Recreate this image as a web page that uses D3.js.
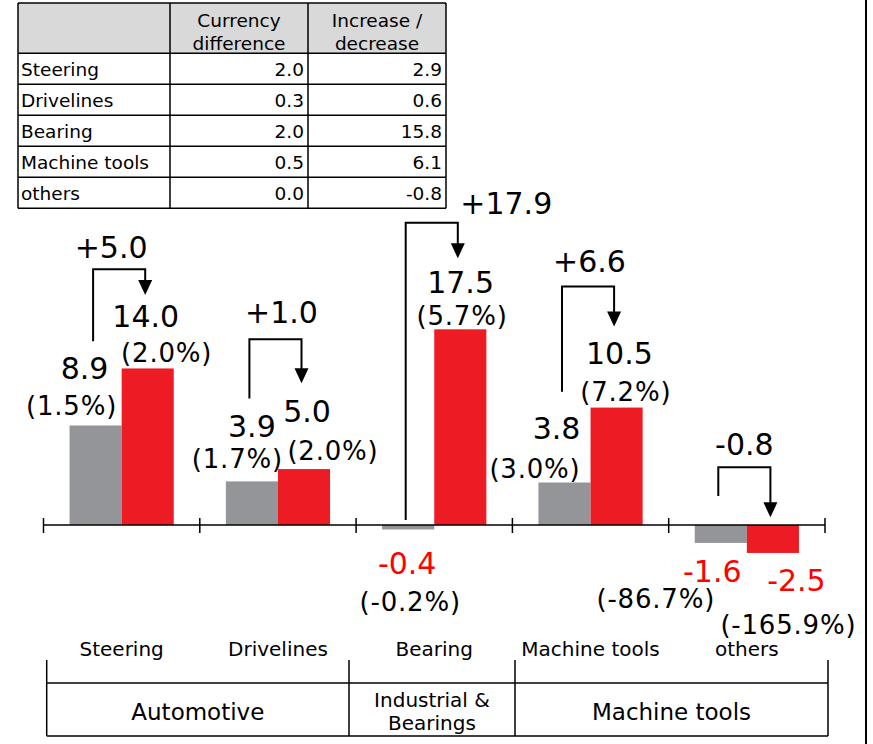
<!DOCTYPE html>
<html>
<head>
<meta charset="utf-8">
<script src="https://cdn.jsdelivr.net/npm/d3@7"></script>
<style>
  html, body { margin: 0; padding: 0; background: #fff; }
  svg { display: block; font-family: "DejaVu Sans", Verdana, sans-serif; }
</style>
</head>
<body>
<svg id="chart" width="873" height="744"></svg>
<script>
// ---- data ----
const categories   = ["Steering", "Drivelines", "Bearing", "Machine tools", "others"];
const prevValues   = [8.9, 3.9, -0.4, 3.8, -1.6];
const currValues   = [14.0, 5.0, 17.5, 10.5, -2.5];
const prevPct      = ["(1.5%)", "(1.7%)", "(-0.2%)", "(3.0%)", "(-86.7%)"];
const currPct      = ["(2.0%)", "(2.0%)", "(5.7%)", "(7.2%)", "(-165.9%)"];
const changeLabels = ["+5.0", "+1.0", "+17.9", "+6.6", "-0.8"];
const currencyDiff = [2.0, 0.3, 2.0, 0.5, 0.0];
const incDec       = [2.9, 0.6, 15.8, 6.1, -0.8];
const tableHeader  = [["Currency", "difference"], ["Increase /", "decrease"]];
const groupNames   = [["Automotive"], ["Industrial &", "Bearings"], ["Machine tools"]];
const groupSpans   = [2, 1, 2];

// ---- layout ----
const GRAY = "#939598", RED = "#ed1c24", TXT_RED = "#ff0000";
const axisY = 525;
const svg = d3.select("#chart");

const x = d3.scaleBand().domain(categories).range([43.5, 825]).paddingInner(0).paddingOuter(0);
const xs = d3.scaleBand().domain(["prev", "curr"]).range([0, x.bandwidth()]).paddingInner(0).paddingOuter(0.5);
const y = d3.scaleLinear().domain([0, 17.5]).range([axisY, 329.3]);

// one decimal, plain hyphen for negatives
const fmt1 = d3.format(".1f");
const fmt = v => fmt1(v).replace("\u2212", "-");

// label nudges: [value dx, value dy, pct dx, pct dy] from bar centre / bar end
const prevLabelPos = [[-11, -46.7, -24, -10], [0, -44, -14.5, -13], [-1, 45, 2, 81.7], [-8, -44, -29.5, -5], [-8.5, 38.7, -65, 65.3]];
const currLabelPos = [[-2, -41, 19, -6], [3, -46.7, 29, -9.3], [0.3, -36, 1.8, -4.3], [2.8, -43.7, 9.2, -7], [23.5, 37.7, 15.5, 81.5]];
// arrow geometry offsets: start above prev bar end, tip above curr bar end, top above tip, label [dx, dy]
const arrowPos = [
  { base: -84.3, tip: -73.5, top: -25.7, ldx: -8,   ldy: -11.3 },
  { base: -83,   tip: -85.8, top: -44,   ldx: 6,    ldy: -16 },
  { base: -5,    tip: -71,   top: -35.6, ldx: 74.5, ldy: -8.7 },
  { base: -90.8, tip: -81,   top: -40,   ldx: 1.4,  ldy: -15 },
  { base: -29,   tip: -7.7,  top: -50,   ldx: 0,    ldy: -12.3 }
];

const rows = categories.map((c, i) => ({
  cat: c, prev: prevValues[i], curr: currValues[i],
  prevPct: prevPct[i], currPct: currPct[i], change: changeLabels[i], i
}));

// ---- bars ----
const barG = svg.append("g");
rows.forEach(d => {
  [["prev", d.prev, GRAY], ["curr", d.curr, RED]].forEach(([k, v, col]) => {
    barG.append("rect")
      .attr("x", x(d.cat) + xs(k))
      .attr("width", xs.bandwidth())
      .attr("y", Math.min(y(v), y(0)))
      .attr("height", Math.abs(y(v) - y(0)))
      .attr("fill", col);
  });
});

// ---- axis ----
const axisG = svg.append("g").attr("stroke", "#000").attr("stroke-width", 1.5);
axisG.append("line").attr("x1", x.range()[0]).attr("x2", x.range()[1]).attr("y1", axisY).attr("y2", axisY);
const bounds = categories.map(c => x(c)).concat([x.range()[1]]);
axisG.selectAll("line.tick").data(bounds).join("line").attr("class", "tick")
  .attr("x1", d => d).attr("x2", d => d).attr("y1", axisY - 7).attr("y2", axisY + 8);

// ---- value labels ----
const labG = svg.append("g");
function valueLabels(d, key, val, pct, pos) {
  const cx = x(d.cat) + xs(key) + xs.bandwidth() / 2;
  const ey = y(val);
  labG.append("text").attr("x", cx + pos[0]).attr("y", ey + pos[1])
    .attr("text-anchor", "middle").attr("font-size", 30)
    .attr("fill", val < 0 ? TXT_RED : "#000").text(fmt(val));
  labG.append("text").attr("x", cx + pos[2]).attr("y", ey + pos[3])
    .attr("text-anchor", "middle").attr("font-size", 26).attr("letter-spacing", 0.8)
    .attr("fill", "#000").text(pct);
}
rows.forEach(d => {
  valueLabels(d, "prev", d.prev, d.prevPct, prevLabelPos[d.i]);
  valueLabels(d, "curr", d.curr, d.currPct, currLabelPos[d.i]);
});

// ---- change arrows ----
const arrG = svg.append("g");
rows.forEach(d => {
  const a = arrowPos[d.i];
  const x0 = x(d.cat) + xs("prev") + xs.bandwidth() / 2 - 2.5;
  const x1 = x(d.cat) + xs("curr") + xs.bandwidth() / 2 - 2.5;
  const yb = y(Math.max(d.prev, 0)) + a.base;
  const yTip = y(Math.max(d.curr, 0)) + a.tip;
  const yTop = yTip + a.top;
  const headH = 15, headW = 14;
  arrG.append("path")
    .attr("d", `M${x0},${yb}V${yTop}H${x1}V${yTip - headH + 1}`)
    .attr("fill", "none").attr("stroke", "#000").attr("stroke-width", 2);
  arrG.append("path")
    .attr("d", `M${x1 - headW / 2},${yTip - headH}L${x1 + headW / 2},${yTip - headH}L${x1},${yTip}Z`)
    .attr("fill", "#000");
  arrG.append("text").attr("x", (x0 + x1) / 2 + a.ldx).attr("y", yTop + a.ldy)
    .attr("text-anchor", "middle").attr("font-size", 30).attr("fill", "#000").text(d.change);
});

// ---- category labels ----
svg.append("g").selectAll("text").data(categories).join("text")
  .attr("x", d => x(d) + x.bandwidth() / 2).attr("y", 656)
  .attr("text-anchor", "middle").attr("font-size", 20).attr("fill", "#000").text(d => d);

// ---- segment group box ----
const gBounds = [46.7, 349, 515, 828];
const boxTop = 683, boxBot = 736, stubTop = 660;
const boxG = svg.append("g").attr("stroke", "#000").attr("stroke-width", 1.5);
boxG.append("line").attr("x1", gBounds[0]).attr("x2", gBounds[3]).attr("y1", boxTop).attr("y2", boxTop);
boxG.append("line").attr("x1", gBounds[0]).attr("x2", gBounds[3]).attr("y1", boxBot).attr("y2", boxBot);
boxG.selectAll("line.v").data(gBounds).join("line").attr("class", "v")
  .attr("x1", d => d).attr("x2", d => d).attr("y1", stubTop).attr("y2", boxBot);
groupNames.forEach((lines, gi) => {
  const cx = (gBounds[gi] + gBounds[gi + 1]) / 2;
  const t = svg.append("text").attr("text-anchor", "middle").attr("fill", "#000");
  if (lines.length === 1) {
    t.attr("x", cx).attr("y", 720).attr("font-size", 23).text(lines[0]);
  } else {
    t.attr("font-size", 20);
    lines.forEach((ln, li) => t.append("tspan").attr("x", cx).attr("y", 707 + li * 23).text(ln));
  }
});

// ---- data table ----
const colX = [18, 170, 308, 446];
const rowY = [3, 53.3, 84.3, 115.3, 146.3, 177.3, 208.3];
const tbl = svg.append("g");
tbl.append("rect").attr("x", colX[0]).attr("y", rowY[0]).attr("width", colX[3] - colX[0])
  .attr("height", rowY[1] - rowY[0]).attr("fill", "#d9d9d9");
const tl = tbl.append("g").attr("stroke", "#000").attr("stroke-width", 1.5);
tl.selectAll("line.h").data(rowY).join("line").attr("class", "h")
  .attr("x1", colX[0]).attr("x2", colX[3]).attr("y1", d => d).attr("y2", d => d);
tl.selectAll("line.c").data(colX).join("line").attr("class", "c")
  .attr("x1", d => d).attr("x2", d => d).attr("y1", rowY[0]).attr("y2", rowY[rowY.length - 1]);
tableHeader.forEach((h, hi) => {
  const cx = (colX[hi + 1] + colX[hi + 2]) / 2;
  h.forEach((ln, li) => tbl.append("text").attr("x", cx).attr("y", 27 + li * 23)
    .attr("text-anchor", "middle").attr("font-size", 18.5).attr("fill", "#000").text(ln));
});
categories.forEach((c, i) => {
  const by = rowY[i + 1] + 23;
  tbl.append("text").attr("x", colX[0] + 3).attr("y", by).attr("font-size", 18.5).attr("fill", "#000").text(c);
  tbl.append("text").attr("x", colX[2] - 4).attr("y", by).attr("text-anchor", "end")
    .attr("font-size", 18.5).attr("fill", "#000").text(fmt(currencyDiff[i]));
  tbl.append("text").attr("x", colX[3] - 4).attr("y", by).attr("text-anchor", "end")
    .attr("font-size", 18.5).attr("fill", "#000").text(fmt(incDec[i]));
});

// ---- right frame edge ----
svg.append("line").attr("x1", 866).attr("x2", 866).attr("y1", 0).attr("y2", 744)
  .attr("stroke", "#000").attr("stroke-width", 2);
</script>
</body>
</html>
